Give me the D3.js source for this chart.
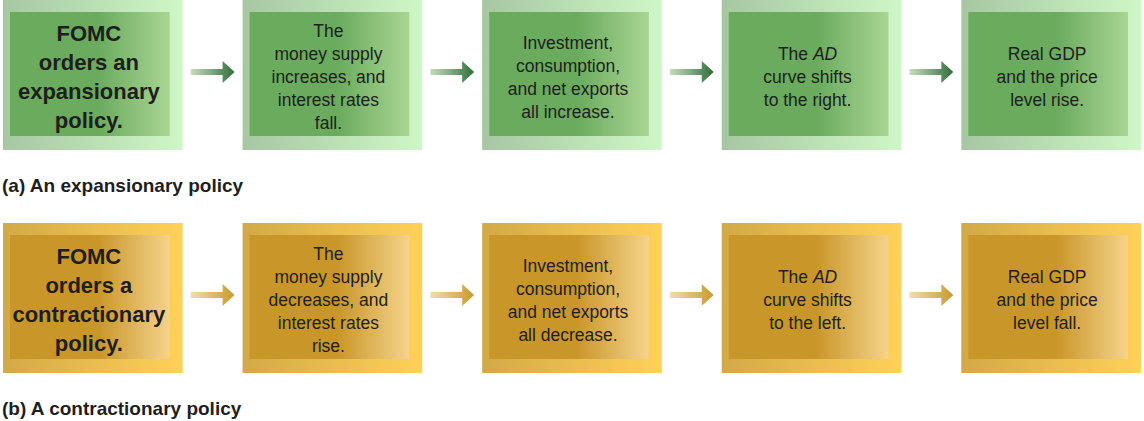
<!DOCTYPE html>
<html><head><meta charset="utf-8">
<script src="https://cdn.jsdelivr.net/npm/d3@7"></script>
<style>body{margin:0;background:#fff}svg{display:block}</style>
</head><body><svg id="chart"></svg>
<script>
const width = 1144, height = 421;

const steps = ['s1', 's2', 's3', 's4', 's5'];
const expansionText = [
  ['FOMC', 'orders an', 'expansionary', 'policy.'],
  ['The', 'money supply', 'increases, and', 'interest rates', 'fall.'],
  ['Investment,', 'consumption,', 'and net exports', 'all increase.'],
  ['The *AD*', 'curve shifts', 'to the right.'],
  ['Real GDP', 'and the price', 'level rise.']
];
const contractionText = [
  ['FOMC', 'orders a', 'contractionary', 'policy.'],
  ['The', 'money supply', 'decreases, and', 'interest rates', 'rise.'],
  ['Investment,', 'consumption,', 'and net exports', 'all decrease.'],
  ['The *AD*', 'curve shifts', 'to the left.'],
  ['Real GDP', 'and the price', 'level fall.']
];
const panelTitles = ['(a) An expansionary policy', '(b) A contractionary policy'];

const rows = [
  {key: 'g', text: expansionText, title: panelTitles[0], top: 0,
   frame: '#b9deb3', inDark: '#6aab5e', inLight: '#a9d593', arrowA: '#c9dcc0', arrowB: '#2f6e3a'},
  {key: 'y', text: contractionText, title: panelTitles[1], top: 223,
   frame: '#e9bc4e', inDark: '#c9962a', inLight: '#f5d38a', arrowA: '#f0deb0', arrowB: '#c89a2e'}
];

const svg = d3.select('#chart').attr('width', width).attr('height', height);
const x = d3.scaleBand().domain(steps).range([3, 1141]).paddingInner(0.25);
const boxH = 150;
const font = "'Liberation Sans Narrow','Liberation Sans',Arial,sans-serif";

const defs = svg.append('defs');
rows.forEach(r => {
  const g1 = defs.append('linearGradient').attr('id', 'in-' + r.key);
  g1.append('stop').attr('offset', '0%').attr('stop-color', r.inDark);
  g1.append('stop').attr('offset', '55%').attr('stop-color', r.inDark);
  g1.append('stop').attr('offset', '100%').attr('stop-color', r.inLight);
  const g2 = defs.append('linearGradient').attr('id', 'fr-' + r.key);
  g2.append('stop').attr('offset', '0%').attr('stop-color', d3.color(r.frame).darker(0.3));
  g2.append('stop').attr('offset', '100%').attr('stop-color', d3.color(r.frame).brighter(0.3));
  const g3 = defs.append('linearGradient').attr('id', 'ar-' + r.key);
  g3.append('stop').attr('offset', '0%').attr('stop-color', r.arrowA);
  g3.append('stop').attr('offset', '100%').attr('stop-color', r.arrowB);
});

rows.forEach(r => {
  const row = svg.append('g').attr('transform', `translate(0,${r.top})`);
  const boxes = row.selectAll('g.box').data(steps).enter().append('g')
    .attr('transform', d => `translate(${x(d)},0)`);
  boxes.append('rect').attr('width', x.bandwidth()).attr('height', boxH)
    .attr('fill', `url(#fr-${r.key})`);
  boxes.append('rect').attr('x', 7).attr('y', 12)
    .attr('width', x.bandwidth() - 20).attr('height', boxH - 26)
    .attr('fill', `url(#in-${r.key})`);

  boxes.each(function(d, i) {
    const lines = r.text[i];
    const first = i === 0;
    const lh = first ? 29 : 23;
    const fs = first ? 22 : 17.5;
    const cy = boxH / 2 + 2;
    const t = d3.select(this).append('text')
      .attr('text-anchor', 'middle')
      .attr('font-family', font)
      .attr('font-size', fs)
      .attr('font-weight', first ? 'bold' : 'normal')
      .attr('fill', '#1e1e1e');
    lines.forEach((ln, j) => {
      const y = cy + (j - (lines.length - 1) / 2) * lh + fs * 0.35;
      const tl = t.append('tspan').attr('x', x.bandwidth() / 2 - 4).attr('y', y);
      ln.split('*').forEach((part, k) => {
        if (part) tl.append('tspan').attr('font-style', k % 2 ? 'italic' : 'normal').text(part);
      });
    });
  });

  // arrows between boxes
  steps.slice(0, -1).forEach((s, i) => {
    const x0 = x(s) + x.bandwidth() + 8;
    const x1 = x(steps[i + 1]) - 8;
    const cy = 72;
    row.append('path')
      .attr('d', `M${x0},${cy - 3}H${x1 - 12}V${cy - 11}L${x1},${cy}L${x1 - 12},${cy + 11}V${cy + 3}H${x0}Z`)
      .attr('fill', `url(#ar-${r.key})`);
  });

  row.append('text').attr('x', 2).attr('y', boxH + 42)
    .attr('font-family', font).attr('font-weight', 'bold').attr('font-size', 19)
    .attr('fill', '#1e1e1e').text(r.title);
});
</script></body></html>
